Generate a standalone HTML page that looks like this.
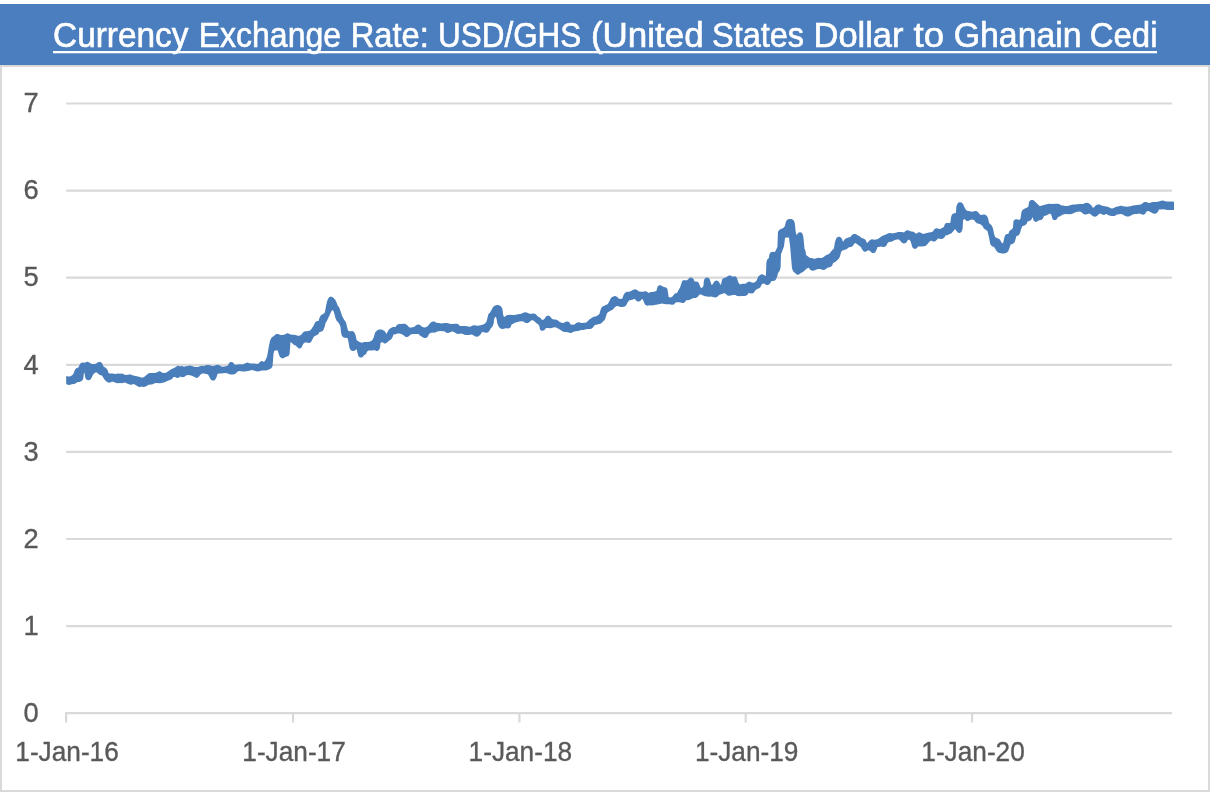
<!DOCTYPE html>
<html lang="en">
<head>
<meta charset="utf-8">
<title>Currency Exchange Rate: USD/GHS (United States Dollar to Ghanain Cedi</title>
<style>
html,body{margin:0;padding:0;background:#fff;}
body{width:1210px;height:792px;overflow:hidden;}
svg{display:block;font-family:"Liberation Sans",sans-serif;}
.ax{fill:#595959;font-size:27.3px;stroke:#595959;stroke-width:0.35px;}
.ttl{fill:#fff;font-size:34.6px;stroke:#fff;stroke-width:0.6px;}
</style>
</head>
<body>
<svg width="1210" height="792" viewBox="0 0 1210 792">
<rect x="0" y="0" width="1210" height="792" fill="#fff"/>
<rect x="1" y="66" width="1208" height="725" fill="#fff" stroke="#D9D9D9" stroke-width="2"/>
<rect x="0" y="4" width="1210" height="61" fill="#4A7EBE"/>
<g class="ttl">
<text x="53.1" y="47.2" textLength="135.4" lengthAdjust="spacingAndGlyphs">Currency</text>
<text x="198.7" y="47.2" textLength="142.4" lengthAdjust="spacingAndGlyphs">Exchange</text>
<text x="350.7" y="47.2" textLength="78.1" lengthAdjust="spacingAndGlyphs">Rate:</text>
<text x="438" y="47.2" textLength="143.3" lengthAdjust="spacingAndGlyphs">USD/GHS</text>
<text x="590.9" y="47.2" textLength="112.8" lengthAdjust="spacingAndGlyphs">(United</text>
<text x="712.1" y="47.2" textLength="92" lengthAdjust="spacingAndGlyphs">States</text>
<text x="813.5" y="47.2" textLength="90" lengthAdjust="spacingAndGlyphs">Dollar</text>
<text x="913.5" y="47.2" textLength="30.6" lengthAdjust="spacingAndGlyphs">to</text>
<text x="953.7" y="47.2" textLength="127.9" lengthAdjust="spacingAndGlyphs">Ghanain</text>
<text x="1089.7" y="47.2" textLength="67.8" lengthAdjust="spacingAndGlyphs">Cedi</text>
</g>
<rect x="53" y="51" width="1104" height="2.3" fill="#fff"/>
<g stroke="#D9D9D9" stroke-width="2.2" fill="none">
<line x1="66.2" y1="626.1" x2="1172" y2="626.1"/>
<line x1="66.2" y1="539" x2="1172" y2="539"/>
<line x1="66.2" y1="451.9" x2="1172" y2="451.9"/>
<line x1="66.2" y1="364.8" x2="1172" y2="364.8"/>
<line x1="66.2" y1="277.7" x2="1172" y2="277.7"/>
<line x1="66.2" y1="190.6" x2="1172" y2="190.6"/>
<line x1="66.2" y1="103.5" x2="1172" y2="103.5"/>
<line x1="65.2" y1="713.2" x2="1172" y2="713.2"/>
<line x1="66.1" y1="713.2" x2="66.1" y2="722.5"/>
<line x1="293.1" y1="713.2" x2="293.1" y2="722.5"/>
<line x1="519.4" y1="713.2" x2="519.4" y2="722.5"/>
<line x1="745.7" y1="713.2" x2="745.7" y2="722.5"/>
<line x1="972.1" y1="713.2" x2="972.1" y2="722.5"/>
</g>
<g class="ax" text-anchor="middle">
<text x="31" y="722">0</text>
<text x="31" y="634.8">1</text>
<text x="31" y="547.7">2</text>
<text x="31" y="460.6">3</text>
<text x="31" y="373.5">4</text>
<text x="31" y="286.4">5</text>
<text x="31" y="199.3">6</text>
<text x="31" y="112.2">7</text>
</g>
<g class="ax">
<text x="15.3" y="761.4" textLength="103.5" lengthAdjust="spacingAndGlyphs">1-Jan-16</text>
<text x="242.3" y="761.4" textLength="103.5" lengthAdjust="spacingAndGlyphs">1-Jan-17</text>
<text x="468.6" y="761.4" textLength="103.5" lengthAdjust="spacingAndGlyphs">1-Jan-18</text>
<text x="694.9" y="761.4" textLength="103.5" lengthAdjust="spacingAndGlyphs">1-Jan-19</text>
<text x="921.3" y="761.4" textLength="103.5" lengthAdjust="spacingAndGlyphs">1-Jan-20</text>
</g>
<path d="M66.2,384.2 L68,384.8 L69.7,384.9 L70.3,384.8 L71.9,384.3 L73.6,384.1 L74.4,383.9 L77.8,382.1 L79.6,381.9 L80.4,381.6 L81.2,381.2 L81.8,380.8 L82.5,380.1 L82.9,379.5 L83.2,378.8 L84,372.6 L84.5,373.2 L85.4,377.9 L85.8,378.8 L86.4,379.6 L87.5,380.1 L88.2,380.3 L88.8,380.3 L89.4,380.1 L90.5,379.5 L90.9,378.9 L93.2,374.4 L94.4,373.2 L96,372.3 L97.5,372.9 L98.7,374.2 L99.4,374.7 L100.7,375.3 L102,375.6 L104.6,379.7 L105.9,380.9 L107.2,382 L108.4,382.6 L109,382.8 L110.1,382.6 L110.9,382.3 L112,381.6 L113.9,382 L116.2,382.9 L118,383.2 L120,382.9 L122,383.2 L124.1,382.6 L126.1,382.9 L128.1,383.9 L129.8,384.5 L130.7,384.7 L131.7,384.7 L133,384.1 L134.8,384.5 L137.1,385.9 L138.7,386.7 L139.3,386.9 L140,387 L142,386.6 L143.3,386.9 L144,386.9 L144.7,386.8 L146.2,386.2 L148.2,385 L149.9,384.6 L152,384.5 L154.1,383.5 L156,382.9 L159.7,383.2 L160.3,383.2 L163.7,382.6 L164.3,382.4 L166.1,381.5 L169.9,380.1 L171.6,379.3 L172,379 L172.4,378.6 L173.5,377.1 L173.7,377 L175,376.9 L176.5,377.8 L177.3,378 L178,377.9 L178.6,377.7 L179.5,377.2 L180,376.6 L182,377.2 L183.4,377.1 L184,377 L184.5,376.7 L186,375.6 L187.8,375.1 L189.9,375.2 L191.9,375.8 L195.5,377.6 L196,377.8 L196.7,377.9 L197.2,377.8 L197.7,377.6 L198.2,377.3 L199.2,376.3 L200.4,374.7 L201.9,373.6 L202.2,373.6 L204.1,373.6 L208,374.6 L209.4,377 L210.6,379.2 L211,379.8 L212.1,380.4 L212.7,380.6 L213.3,380.6 L214.2,380.4 L214.7,380.1 L215.1,379.7 L216.5,377.2 L217.5,374 L218.8,373.6 L221.2,373.5 L225.1,373.1 L227.1,373.3 L228.8,374 L230.7,374.5 L232.7,374.6 L234.4,374.2 L235,374 L237.9,371.4 L238.2,371.2 L239.8,371.1 L242.3,371.6 L244.2,371.5 L248.2,371 L252,370.1 L253.9,370.5 L256.2,371.3 L258,371.5 L261.9,370.6 L265.7,370.6 L267.8,370.1 L269.9,369.1 L271,368.4 L271.5,368 L271.8,367.5 L272.4,366.4 L272.6,365.6 L273.5,354.1 L274.1,351 L275.6,350.5 L277.5,350.3 L279.3,355.6 L279.7,356.4 L280.6,357.5 L281.4,358.1 L282.2,358.3 L282.8,358.4 L283.3,358.3 L284.3,357.8 L285.5,356.9 L287.1,356.5 L288.2,356.1 L288.6,355.7 L289.4,354.4 L289.6,353.6 L290.5,342.1 L291.9,343 L293.2,344.3 L293.8,344.7 L295.6,345.6 L296.9,346.8 L298.2,348.1 L298.8,348.4 L299.5,348.5 L300.1,348.4 L300.7,348.1 L301.5,347.5 L301.8,346.9 L303.1,344 L304.9,342.6 L305.2,342.6 L306.9,342.6 L308.7,342.9 L309.3,342.9 L310.4,342.4 L311,342 L311.4,341.4 L312.6,339 L314,336.6 L317.4,334.8 L318,334.5 L318.4,334 L319.5,332.1 L321,331.8 L322.5,330.9 L323,330.5 L323.3,329.9 L324.5,327.2 L325.6,322.9 L327.1,320.4 L328.5,317.6 L331.5,310.9 L332.5,310.1 L333.5,311.1 L334.5,314.1 L335.4,317.9 L336.3,320.1 L336.8,320.9 L338,322.1 L339.5,324.2 L340.5,327.1 L341,332.2 L341.8,335.4 L342,336 L343,337 L343.5,337.4 L344.2,337.7 L347.5,338.1 L348.5,342.1 L349.4,347.6 L349.7,348.4 L350.5,349.7 L350.9,350.2 L351.3,350.6 L351.9,350.8 L353,351 L354.4,350.7 L355,350.5 L356.5,349.1 L357.5,353 L358.4,356.2 L358.8,356.6 L359.5,357.2 L360,357.5 L360.5,357.6 L361.1,357.6 L361.6,357.4 L362.5,357 L362.9,356.7 L364.5,355.1 L366,354 L366.3,353.4 L367.1,351.5 L368.5,350.6 L372.2,350.6 L374.5,350.1 L376.2,350.9 L376.8,350.9 L377.3,350.9 L378.2,350.6 L378.6,350.2 L379,349.7 L380,348 L380.5,343.2 L380.7,342.9 L382,342.1 L383.6,343.1 L384.4,343.4 L385,343.5 L385.6,343.4 L386.1,343.1 L387.2,342.4 L388.9,340.7 L391,339.5 L391.4,339 L392.5,337.2 L393.5,334.6 L395.7,334.2 L397.3,333.6 L399.4,333.6 L401.4,334 L403.3,335 L405,336.5 L406,336.9 L406.7,337 L407.3,337 L408.8,336.2 L410.7,334.5 L412.6,334.1 L416.4,334.1 L418.5,333.9 L420.2,335.7 L421.9,336.8 L423.6,337.7 L424.4,337.9 L425.5,337.9 L426.9,337.4 L427.5,337 L427.9,336.4 L429,334 L430.5,332.9 L432.3,332.6 L434.5,332.7 L435.1,332.5 L436.6,331.8 L438.4,331.3 L440.6,331.1 L442.4,331.2 L444.5,331.3 L446,332.5 L447.5,332.9 L448,333 L449.8,332.6 L451.9,331.6 L452.2,331.6 L454,331.9 L455.2,332.8 L455.8,333.2 L457.1,333.7 L457.9,333.9 L459.7,333.8 L461.5,333.6 L464.6,334.7 L465.4,334.9 L468.8,334.9 L471.2,334.6 L473,334.9 L474.2,335.8 L474.8,336.2 L476.3,336.7 L476.8,336.7 L478.1,336.4 L478.9,335.9 L480.3,334.8 L480.7,334.2 L482,332.1 L483.9,332.2 L485.5,332.7 L486.5,332.8 L487.7,332.5 L488.2,332.2 L488.6,331.8 L489.6,330.4 L491,328.1 L492.2,326.9 L492.7,326.1 L493.6,323.7 L494,320.1 L494.5,318.2 L495,317 L495.9,316.9 L496,316.9 L496.5,318.8 L497.4,323.7 L497.6,324.3 L498.8,326.7 L499.2,327.3 L500.5,328.5 L502,328.9 L502.5,329 L503,328.9 L504.6,328.5 L506.3,328.3 L508.5,328.4 L509.1,328.2 L510.2,327.6 L510.6,327.2 L511.6,324.5 L515.6,322.5 L519.5,321.6 L521.7,321.3 L523.5,321.6 L525,322.8 L526.4,323.1 L527,323.2 L527.6,323 L529,322.5 L530.6,321 L532,320.1 L534.1,321.1 L535.9,322.7 L538.1,324.3 L539.4,326 L539.8,328.7 L539.9,329.3 L540.2,329.8 L540.7,330.2 L541.6,330.7 L542.2,330.8 L542.8,330.8 L544.1,330.3 L544.5,330 L544.9,329.6 L546,328.1 L547.9,328.1 L549.7,328.2 L550.3,328.2 L551.9,327.9 L554.1,327.3 L556.1,327.6 L559.9,329.5 L562.3,331.2 L563.6,331.7 L564.4,331.9 L566.1,331.9 L567.9,332.2 L569.3,332.8 L570,332.9 L570.7,332.9 L572.2,332.4 L574.2,331.5 L577.7,331.1 L578.3,330.9 L580.1,330.2 L581.9,329.9 L583.7,329.9 L584.3,329.8 L586.1,329.2 L587.8,328.9 L589.6,329 L590.4,329 L591.7,328.6 L592.5,327.9 L593.6,326.5 L595,325.1 L600.4,323.7 L601,323.5 L601.5,323.1 L604.6,319.9 L605,319.5 L607.1,313 L609.1,311.5 L613,309.5 L614.5,307.6 L615.9,306.4 L616.2,306.2 L618,306.1 L619.7,306.7 L620.3,306.9 L622.2,307 L624,306.8 L625.5,305.9 L626,305.5 L626.3,305 L627.6,302.4 L629,300.6 L634.9,299.1 L635.1,299.2 L636.1,300.5 L636.5,301 L637.6,301.5 L638.2,301.6 L638.8,301.6 L639.4,301.4 L640.5,300.8 L642,299.1 L642.8,299.5 L643,299.7 L643.9,302.3 L645.1,304.4 L645.5,304.9 L646.2,305.3 L647.3,305.7 L648.3,305.6 L649.5,305.3 L651.2,305.5 L651.8,305.5 L657.4,304.6 L662,303.6 L664.2,304.1 L666.1,304.2 L669.8,304.2 L671.5,304.7 L672.5,304.8 L673.7,304.5 L674.2,304.2 L675.5,302.6 L675.7,302.5 L677.4,302.3 L679.3,302.2 L682.5,303 L683.1,303.1 L683.8,302.9 L684.3,302.6 L685.2,301.8 L686.5,300.1 L688,300.2 L689,300.1 L690.3,299.6 L692.2,298.5 L693.9,298.1 L695.3,298.1 L696,297.9 L696.6,297.6 L697.8,296.7 L698.2,296.3 L699.5,294.6 L701,294.6 L703.1,295.6 L705.2,296.3 L708.7,296.8 L709.3,296.8 L711,296.6 L715,297.5 L716.4,297.2 L717,297 L718.6,295.5 L719.9,294.6 L722.2,293.9 L724,293.1 L725.8,294 L727,295 L727.5,295.4 L728.2,295.7 L729.5,295.8 L731.6,295.2 L733.7,294.9 L735.3,295 L737.1,295.9 L737.9,296.1 L739.3,296.2 L741.6,296.1 L743.6,296 L745.2,295.9 L745.8,295.7 L747.2,295.1 L747.6,294.7 L748.5,293.1 L749.9,293.2 L751.7,293.6 L752.3,293.6 L752.9,293.3 L754,292.5 L755.6,290 L757.4,288.9 L759.4,288.1 L759.8,287.8 L760.2,287.5 L762,284.1 L764,283.6 L765.6,284.6 L766.4,284.9 L767.6,285.1 L768.3,284.9 L768.8,284.5 L769.8,283.8 L770.2,283.2 L771.5,281.1 L773,281.1 L773.5,281 L774,280.8 L774.9,280.4 L775.5,280 L775.9,279.4 L777.1,276.8 L778,273.2 L779.8,270.4 L780.1,269.6 L780.6,267.3 L781,254.2 L784,246.3 L785,238 L785.2,237.8 L787.1,237.6 L788.9,237.6 L790,245 L791,257 L792,268.3 L792.8,270.5 L793,271 L793.3,271.4 L796.2,274.1 L796.7,274.5 L797.4,274.7 L798,274.7 L799,274.5 L799.5,274.1 L800.9,273 L803,272 L805.1,270 L807,268.6 L808.5,267.6 L809.7,269.2 L810.3,269.8 L811.3,270.4 L811.8,270.6 L812.3,270.7 L814.2,270.5 L817.8,269.1 L818.2,269.1 L820.1,269.1 L823.2,269.9 L823.7,269.9 L824.3,269.9 L825.8,269.1 L828,267.6 L829.6,267.3 L830.4,267 L831.3,266.5 L831.7,266.1 L832.1,265.7 L833.1,263 L835.2,261.9 L836.9,260.6 L839,258.5 L840.1,255.9 L841.1,252 L842.4,250.6 L846.5,249.2 L848.5,247.6 L851.6,246.8 L852.2,246.6 L852.6,246.2 L853,245.7 L854,244 L855.5,243.1 L860.9,247 L862.3,249.7 L862.7,250.3 L864,251.5 L864.6,251.7 L865.1,251.8 L865.7,251.8 L866.2,251.6 L867.5,250.6 L869.5,250.6 L870.9,251.9 L871.9,252.7 L872.4,253 L873,253.2 L873.7,253.1 L874.4,252.8 L875,252.5 L875.4,252 L876.6,249.8 L877.5,247.1 L879,246.9 L880,246.6 L883.4,247 L884,247 L884.6,246.8 L885.4,246.4 L886,246 L886.4,245.4 L887.6,243 L888.9,242.1 L891.3,241.7 L893.1,241 L894.9,240.1 L896.9,239.6 L899,239.6 L900.4,241 L902,242.8 L902.6,243 L903.7,243.4 L904.7,243.3 L905.8,242.9 L906.5,242.2 L907.5,240.5 L909,239.6 L910.5,241.1 L911.4,244 L912.2,246.8 L912.6,247.5 L913.1,248 L914.2,248.7 L914.9,248.9 L915.5,248.8 L916.2,248.6 L917,247.9 L918,246.6 L922.2,246.5 L924.1,246.2 L925.7,245.8 L926.5,245.2 L929.2,241.9 L931,240.6 L933,241.5 L934.1,241.6 L934.7,241.5 L935.2,241.2 L935.7,240.9 L938,238.6 L939.8,238.8 L941.6,238.9 L942.4,238.7 L943.3,238.3 L944,237.9 L944.4,237.4 L945.5,235.6 L947.7,234.9 L951.5,233.2 L953.5,231.1 L955,229.1 L956.5,231.1 L957.8,232.5 L958.3,232.8 L959.1,233 L959.7,232.9 L960.2,232.8 L960.7,232.5 L961.5,231.8 L961.8,231.2 L962.4,229.3 L962.6,228.7 L963.1,220 L964.5,219.1 L966,220.5 L967,220.9 L967.7,221 L968.3,221 L970.2,220 L971.9,219.6 L973.9,220 L974,220.1 L975.3,221.8 L975.7,222.2 L977,223.2 L977.5,223.5 L978,223.6 L979.6,223.9 L981.1,224.7 L982.5,226.1 L983.7,228.2 L984.3,228.8 L987.4,231 L988.5,235 L990.3,244 L990.5,244.5 L990.8,245 L992,246.2 L994,246.9 L995.4,249 L996.7,251.2 L997.3,251.8 L998.4,252.6 L999,252.9 L1000.1,253.1 L1001.7,253.5 L1003.7,253.6 L1004.3,253.5 L1006,253 L1007.6,251.9 L1008,251.5 L1008.3,251 L1009.5,248.1 L1010.6,244.6 L1012.5,244 L1013.9,243 L1014.4,242.5 L1014.8,241.8 L1015.6,239 L1016.5,236.1 L1018.2,235.6 L1018.6,235.2 L1019,234.7 L1019.9,233.3 L1020.1,232.7 L1021.1,228.9 L1022.5,226.1 L1024.5,225.5 L1026,224.4 L1026.5,224 L1026.8,223.4 L1027.5,221.6 L1029.5,221 L1031,219.9 L1031.5,219.5 L1031.8,218.9 L1032.5,217.1 L1033.3,219.6 L1033.7,220.4 L1034.8,221.5 L1035.4,221.8 L1036.2,221.9 L1036.7,221.8 L1037.2,221.6 L1038.5,220.6 L1040.7,219.9 L1041.9,219.4 L1042.5,219 L1042.9,218.4 L1044,216.1 L1046.2,215.4 L1050,213.6 L1051.4,215 L1052.3,218.3 L1052.7,219.2 L1053.4,219.7 L1053.9,220 L1054.5,220.2 L1055.2,220.1 L1055.7,219.9 L1056.5,219.5 L1056.9,219 L1058.1,217.1 L1060.2,216.2 L1062.1,215 L1063.9,214.3 L1065.9,214.1 L1068.2,214.2 L1071.7,213.9 L1072.3,213.7 L1073.9,213.1 L1076.2,212 L1079.8,211.6 L1080.1,211.6 L1081.8,212.5 L1083.5,214 L1085,214.4 L1085.5,214.5 L1086,214.4 L1089.5,213.6 L1090.9,214.5 L1092.7,215.9 L1093.3,216.2 L1094.7,216.7 L1095.3,216.7 L1095.8,216.5 L1097,216 L1099,214.1 L1100.5,213.6 L1101.7,214.3 L1102.4,214.6 L1103.7,214.9 L1104.3,214.9 L1105.9,214.1 L1106.1,214.1 L1107.3,214.5 L1108.7,215.3 L1109.4,215.6 L1111.3,216.1 L1112.9,216.1 L1114.5,215.9 L1115,215.8 L1115.5,215.6 L1117,214.6 L1119,214.2 L1121.2,214.1 L1122.8,214.5 L1124.8,215.7 L1126.6,216.4 L1127.4,216.6 L1128.5,216.6 L1129,216.5 L1129.5,216.3 L1132.9,214.6 L1134.9,214.1 L1137.3,214 L1139,213.6 L1140.9,214 L1142.7,214.7 L1143.3,214.7 L1143.8,214.5 L1145,213.9 L1145.4,213.4 L1146.5,211.6 L1148.5,210.9 L1152.2,213.1 L1153.9,213.7 L1154.5,213.8 L1155.9,213.4 L1156.5,213.2 L1157,212.8 L1158.2,211.3 L1159,209.6 L1160.8,209.6 L1163.2,209.3 L1164.9,209.5 L1167.3,210.1 L1174,210.1 L1174,201.7 L1171.8,201.4 L1166.2,201.4 L1163.8,200.7 L1162,200.5 L1157.9,201.8 L1155.9,202.1 L1152.4,202.1 L1151.6,202.3 L1150,202.9 L1148.2,202.8 L1146,202 L1144.7,202.1 L1144,202.3 L1143.4,202.6 L1142.4,203.5 L1140.9,204.5 L1133.1,205.4 L1129,206.4 L1127.2,206.7 L1123,206.2 L1121.4,205.8 L1120.6,205.8 L1119.6,205.9 L1117.6,206.4 L1115.6,207.1 L1113.3,208.2 L1111.5,208.4 L1109.4,207.4 L1107.7,206.8 L1103.4,206.1 L1101.6,205.5 L1100,204.7 L1099.5,204.5 L1099,204.4 L1097.5,204.5 L1097,204.7 L1095.5,205.5 L1094,207.4 L1092.5,207.4 L1091.3,205.3 L1090.7,204.7 L1089.3,203.7 L1088.7,203.3 L1087,202.8 L1085.5,202.9 L1085,203 L1083.4,204 L1081.6,204.1 L1079.3,204 L1075.6,204.4 L1073.7,204.4 L1071.7,204.7 L1067.5,206.1 L1065.6,206 L1063.2,205.4 L1061.5,205.4 L1059.9,204.4 L1059.1,204.1 L1057.3,203.8 L1055.4,203.8 L1051.7,204.1 L1049.8,203.8 L1049.2,203.8 L1047.7,203.9 L1043.6,204.9 L1041.4,205.8 L1039.5,206.1 L1038,204.4 L1034.7,201.2 L1034.3,200.8 L1032.8,200 L1032.2,199.9 L1031.3,200 L1030.3,200.4 L1029.4,201.5 L1029,202 L1028.9,202.7 L1028.4,206.5 L1027.1,207.6 L1026.8,207.8 L1024.9,208.5 L1023.6,209.2 L1023,209.5 L1022.6,210 L1021.7,211.6 L1021.4,212.4 L1020.4,219 L1019,219.9 L1017,219.2 L1015.7,219.3 L1015,219.6 L1014.5,220 L1013.7,220.8 L1013.5,221.3 L1013.4,221.8 L1012.9,228 L1011.5,229.4 L1010,230.6 L1009.5,231 L1009.2,231.6 L1008.5,233.7 L1007.3,233.9 L1006.3,234.2 L1005.4,235.1 L1005,235.5 L1004.8,236 L1004,238.9 L1003,243.4 L1001.5,242.5 L1000.2,240 L999.8,239.5 L999.2,239 L996.9,238.1 L995.1,237 L994.1,234.1 L993.1,229.1 L992.2,226.5 L992,226 L991.7,225.6 L989.1,223 L988.1,218.4 L987.8,217.6 L986.9,216 L986.5,215.5 L985.1,214.8 L984.5,214.6 L983.8,214.6 L980.5,214.9 L979.1,213.5 L977.7,211.7 L977.2,211.4 L976,211.1 L975.5,211 L975,211.1 L973.4,211.5 L971.5,211.7 L969.8,211.2 L969.2,211.1 L967.5,211.1 L965.9,209.8 L964.6,207.6 L963.4,204.8 L962.4,203.3 L962,202.8 L961.4,202.5 L960.3,202.2 L959.7,202.2 L958.6,202.6 L958,203 L957.6,203.6 L956.7,205.6 L956.4,206.4 L955.9,212.9 L954.2,213.3 L953.1,213.7 L952.5,214 L951.7,215.2 L951.4,215.9 L951,217.8 L950.4,222.7 L948.6,222.9 L946.8,222.9 L946.3,223 L945.5,223.6 L945,224 L944.7,224.6 L943.9,227 L940.1,228.9 L939.8,228.9 L938.6,228.8 L936.8,228.2 L936.2,228.2 L935.1,228.7 L934.5,229 L934.1,229.5 L933,231.4 L932.9,231.5 L930.9,232.2 L928.9,232.5 L923,233.9 L921.3,232.9 L920.1,232.4 L919.5,232.2 L918.8,232.3 L918,232.5 L916.5,233.7 L915.1,233 L913.5,231.8 L911.4,231.4 L907.8,230.2 L907.2,230.2 L905.8,230.8 L905.2,231.2 L904,232.4 L902,232.1 L899.8,232 L898.2,232.1 L895.9,232.8 L892.1,233.4 L890.5,233.1 L890,233 L889.5,233.1 L887.8,233.6 L886,234.4 L883.9,235.2 L882.1,236.1 L880,237.4 L877.9,239 L876,239.4 L874.1,239.7 L872.3,239.3 L871.8,239.3 L870.6,239.7 L870,240 L869.6,240.5 L868.3,242.1 L867,242.9 L865.8,240.4 L865.5,240 L865.1,239.6 L863.5,238.5 L861.5,238.1 L860.3,236.8 L859.6,236.3 L858,235.4 L856.4,234.4 L855.6,234.1 L854.3,233.9 L853.7,234 L853.2,234.2 L852.3,234.7 L851.7,235.3 L850.5,236.9 L848.4,237.5 L846.3,238.3 L844.5,239.5 L843,241.9 L842.2,239.4 L841.8,238.6 L840.9,237.6 L840.5,237.2 L839.5,236.8 L838.9,236.7 L838.2,236.8 L837.1,237.4 L836.6,237.8 L836.2,238.5 L834.9,242.2 L833.9,248.5 L831.9,250.6 L829.8,253.3 L828.1,254.4 L826.3,255 L825.7,255.4 L823.9,256.8 L822,257.9 L820.2,258.1 L818,257.8 L815.9,258.5 L814.1,258.7 L811.8,258.1 L810,257.9 L806.1,255 L805.6,251.4 L805.4,250.6 L804.5,248.8 L803.6,239 L803.1,235.8 L802.4,233.8 L802.1,233.3 L801.7,232.9 L801.3,232.6 L800.5,232.3 L800,232.2 L799.5,232.3 L799,232.4 L798,233 L797.6,233.6 L797,234.9 L796.1,234.1 L795.6,231 L795.1,225.6 L794.6,222.6 L793.9,220.7 L793.6,220.3 L793.2,219.9 L792,219.2 L791.5,219 L791,218.9 L789.2,219 L787.8,219.4 L787.3,219.7 L786.2,221.1 L785.8,222 L784.9,226 L783.6,227.8 L783.3,228 L779.8,229.4 L779,230.2 L778,232 L777.9,232.6 L777.4,247 L775,251.9 L773.2,251.8 L772,251.9 L771.4,252 L770.8,252.3 L770.4,252.7 L769.5,254 L769.4,254.6 L768.9,258 L767.7,258.9 L767.2,259.7 L766.6,261.7 L766.4,262.3 L765.9,275.9 L763.9,274.9 L762.3,274.3 L761.7,274.3 L761.2,274.5 L760,275 L758,277 L756.9,280.1 L755.6,281.8 L755.3,282 L753.6,282.7 L753.4,282.7 L751.7,282.5 L749.8,281.7 L749.2,281.6 L747.9,282 L747.1,282.4 L746,283.4 L744.1,283.7 L742.4,283.8 L741.6,283.9 L740,284.4 L738.6,283 L736.9,278 L736.6,277.4 L736.1,276.9 L735.6,276.6 L734.7,276.3 L733.7,276.4 L732.5,276.7 L731.2,275.7 L730.7,275.5 L729.7,275.4 L729,275.5 L728.4,275.8 L725.7,277.6 L723.5,278.2 L722.6,278.9 L722.2,279.3 L722,279.8 L721.5,282.8 L720.5,284.9 L719.4,282.8 L718.2,281.2 L717.3,280.8 L716.4,280.6 L715.7,280.8 L714.4,281.6 L714,282 L713.7,282.4 L712.9,284 L711.5,284.9 L710.6,282 L709.8,279.4 L709.6,278.9 L709.2,278.4 L708.1,277.8 L707.5,277.6 L706.8,277.6 L705.9,277.8 L705.3,278.1 L704.9,278.6 L704,280 L703.9,280.6 L703.4,286 L702,287.9 L700.6,287.4 L698.9,283.3 L698.6,282.8 L698.2,282.4 L697.8,282.1 L696.5,281.5 L694.5,281.4 L693.8,279.6 L693.5,279 L693,278.6 L691.7,277.7 L691.2,277.6 L690.3,277.6 L689.8,277.8 L689.3,278 L687.9,279.5 L686.5,280.4 L684.5,280 L683.6,280.2 L683.1,280.4 L682.6,280.7 L682.3,281.1 L682,281.5 L681.5,282.9 L680,287.8 L678.4,290.2 L677,293.1 L675.7,293.3 L675,293.6 L674.5,294 L673.6,294.9 L672,296.9 L670,297.4 L668.6,297 L667.6,289.7 L667.3,288.8 L666.5,287.9 L666,287.5 L663.9,286.9 L661,285.4 L660.4,285.2 L659.8,285.2 L659.2,285.3 L658.7,285.6 L657.8,286.6 L657.3,287.5 L656.4,290.9 L652.6,291.9 L650.8,292.1 L650.2,292.3 L648.5,292.9 L647.4,292 L646.6,291.6 L645.6,291.3 L645,291.2 L642.8,291.8 L640.9,291.7 L639.1,291.5 L636.7,289.8 L635.2,289.3 L634.2,289.4 L632.7,289.9 L631.1,290.9 L629.2,291.7 L627,291.8 L625.5,292.5 L625,292.8 L623.7,294.7 L623.4,295.3 L622.5,298.3 L622.3,298.5 L620.5,298.9 L618.7,298.5 L618.4,298.3 L617,296.8 L615.8,296.3 L615.3,296.1 L614.7,296.1 L614.2,296.3 L612.8,296.8 L611.5,297.6 L611,298 L610.7,298.6 L607.9,303.9 L602.6,306.6 L602,307 L601.6,307.6 L600.6,309.8 L599.4,314 L597.6,315.4 L595.6,316.4 L593.9,316.7 L593.1,317 L591.6,317.9 L589.4,319.6 L586.6,322.3 L586.3,322.5 L582.4,322.9 L580.6,322.8 L578.8,322.3 L578.3,322.3 L576.8,322.8 L576.2,323.1 L574.5,324.4 L572.7,324.7 L570.7,324.5 L570.5,324.3 L569.4,322.6 L569,322.1 L568.3,321.7 L567.3,321.4 L566.7,321.4 L566.1,321.6 L563.5,323.1 L561.4,322.7 L559.4,321.8 L557.9,320.5 L557.1,320 L555.9,319.6 L555.1,319.4 L553.5,319.4 L551.7,318.5 L550.1,316.4 L549.3,315.9 L548.3,315.6 L547.7,315.7 L547.1,315.9 L546,316.5 L545.6,317 L544.6,318.8 L543,320.1 L541.5,319.4 L540.5,318 L540,317.5 L538.5,316.9 L536,314.4 L535.5,314 L534.9,313.8 L533.5,313.5 L531.4,313.8 L529.5,313.7 L527.9,312.9 L526,312.2 L524.3,312.4 L523.7,312.6 L521.9,313.5 L520.1,313.9 L517.8,314.2 L515.9,314.8 L513.9,314.9 L512.1,314.9 L510.2,314.8 L508.3,314.9 L507.7,315.1 L506.3,315.6 L505.7,316 L504.5,316.9 L503.6,316.3 L503.5,316.1 L503,313.5 L502.6,309.9 L502,307.8 L500.9,306.4 L500.5,306 L500,305.7 L498.9,305.3 L498.1,305.1 L496.8,305.1 L496.2,305.2 L494.5,305.8 L493.2,306.9 L492.8,307.5 L491.5,310 L490,312.4 L488.5,314 L488.3,314.6 L486.4,322 L484.9,323.5 L483.3,324.5 L479.5,325.4 L477.7,325.7 L474.1,325.2 L473.5,325.2 L471.6,325.9 L470.1,326.7 L469.8,326.7 L468.1,326.5 L465.7,325.9 L464.1,325.9 L461.9,326.1 L460,325.9 L458.8,324.7 L458.2,324.3 L457,323.8 L456.5,323.8 L454.9,323.8 L452.9,323.9 L451.1,323.9 L446.7,322.9 L444.9,323 L441,323.4 L439.4,323 L438.6,323 L437,323.1 L435.6,322.2 L434.4,321.6 L433.8,321.4 L433.2,321.4 L431.8,321.8 L431.2,322.2 L429.3,324 L428,326 L426.2,327 L425.8,327.2 L423.9,327.4 L422,326.7 L420,325 L418.7,324.6 L418,324.5 L417.4,324.7 L416,325.2 L414.5,326.7 L412.4,327.2 L410.5,327.7 L408.5,326.8 L407.3,325.3 L406.7,324.8 L405,323.8 L403.2,323.8 L401,324.1 L399.3,323.9 L398.7,324 L397.3,324.7 L396.7,325.3 L395.5,326.9 L393.9,326.9 L393.1,327.1 L391.3,327.8 L389.8,328.7 L389.2,329.3 L388.1,330.8 L386.5,333.9 L385,331.5 L383.2,330.3 L382.8,330.1 L381.4,329.6 L380.6,329.4 L379.5,329.4 L379,329.5 L378.5,329.7 L377.4,330.2 L376.7,330.8 L375.2,332.6 L374.8,333.4 L373.5,337.9 L372,340.4 L370.1,341.4 L368.1,341.9 L365.9,342 L364.2,342.1 L362,342.7 L360.1,342.2 L358.1,341.2 L356.6,340 L355.6,335.3 L355.4,334.7 L354.4,332.6 L354,332 L353.4,331.6 L352.3,331.1 L351.7,331.1 L350,331.4 L348.1,330.8 L347.1,327 L346.1,322.9 L345.8,322.1 L344,319.4 L342.1,316.1 L340.5,310.9 L339,307 L337.6,305.5 L336.5,302.3 L335.2,299.8 L334.8,299.2 L333.3,297.7 L332.7,297.3 L331.3,296.7 L330.7,296.6 L329.8,296.9 L329.3,297.1 L328.9,297.5 L328.6,297.9 L327.4,300.2 L326.5,303.8 L326,306.2 L324.9,312.5 L323.1,314 L321.3,314.9 L320.9,315.3 L319.5,317.8 L318.5,320.9 L317.4,321.1 L316.6,321.3 L315.5,322 L315.1,322.6 L313.9,325 L312,328.3 L310.1,330.4 L308.2,331.1 L305.8,331.2 L304.3,331.5 L303.8,331.8 L303.4,332.1 L301.9,334 L300,335.4 L299.3,335.8 L297.9,335.7 L296.1,335.2 L294.2,334.8 L292.1,334.8 L290.6,334.5 L288.3,333.5 L287.8,333.3 L287.2,333.3 L286.7,333.5 L284.1,334.7 L282.2,335.1 L280.2,335 L278.3,334.1 L277.3,333.9 L276.7,333.9 L275.8,334.3 L275.2,334.7 L273.9,336 L272.3,337.1 L271.3,338.1 L270.8,338.9 L269.9,341.2 L268.9,346 L267.9,352 L267,356.8 L265.5,359.9 L264,361.9 L262.7,361.2 L262.2,361.1 L261.6,361.1 L261,361.2 L260.5,361.6 L259.5,362.4 L258,363.9 L253.8,363.4 L250,363.4 L248.9,362.9 L248.3,362.7 L247.7,362.6 L246,363.1 L243.9,364 L242.1,364.4 L240.3,364.2 L239.7,364.2 L235.8,364.7 L234.5,364.4 L233.4,363 L233,362.5 L232.4,362.2 L231.3,362 L230.7,362 L230.1,362.3 L229.1,363 L228.7,363.7 L228,365.3 L227.8,365.5 L225.9,366.2 L222.1,366.7 L221.9,366.7 L219.8,365.4 L218,364.8 L216.2,365.1 L213.8,366 L212.1,366.1 L208.6,365 L208,364.8 L207.4,364.9 L205.7,365.3 L204,366.1 L202.4,365.8 L201.6,365.8 L199.8,366.2 L197.8,367 L196.2,367.1 L194.1,366.8 L191.9,365.9 L190,365.5 L187.9,366 L185.8,366.2 L184,366.7 L182.7,366.2 L182,366.1 L181.3,366.1 L180,366.4 L179.3,365.9 L178.8,365.7 L178.2,365.7 L177.6,365.8 L177.1,366 L174.1,368.1 L171.7,368.9 L170.1,369.9 L167.9,371.5 L166,372.7 L164.1,372.9 L162.2,372.8 L161.9,372.6 L160.5,371.5 L159.9,371.3 L159.3,371.3 L158.3,371.5 L156.2,372.7 L155.8,372.8 L153.9,372.9 L150.4,372.9 L149.6,373.1 L148.3,373.6 L147.7,374 L145.9,375.5 L144.1,376.9 L142,377.7 L139.9,376.9 L138.1,376.5 L134.1,375.8 L130.6,374.5 L130,374.3 L129.3,374.4 L127.9,374.8 L126.2,374.9 L124.1,374.5 L122,373.6 L119.9,373.7 L118.3,373.6 L117.7,373.6 L115.8,373.9 L112.2,373.5 L109.8,373.4 L108.5,373 L107.7,370.3 L107.3,369.7 L106,368 L103.6,366.6 L103,365.6 L102.5,364 L101.5,362.7 L101,362.2 L100.1,361.9 L99.5,361.8 L98.9,361.9 L98,362.2 L96.3,363.5 L94.9,364 L92.9,364.1 L91.5,363.9 L88.5,362 L87.6,361.8 L87,361.8 L85.4,362.5 L84,362.7 L82.5,362.5 L81.6,362.7 L81,363 L80.5,363.5 L79.6,364.7 L78.4,367.4 L76.7,368.1 L75.5,369 L74.5,370.8 L73.4,374 L71.8,375.5 L69.9,376.5 L68.2,376.5 L66.2,376.1Z" fill="#4A7EBB" fill-rule="evenodd"/>
</svg>
</body>
</html>
